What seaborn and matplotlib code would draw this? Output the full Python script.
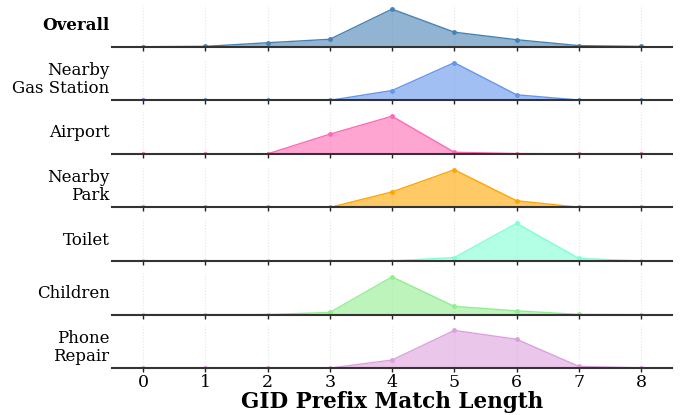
import numpy as np
import pandas as pd
import matplotlib
matplotlib.use("Agg")
import matplotlib.pyplot as plt
import seaborn as sns

# share of matches (%) for each GID prefix match length
lengths = [0, 1, 2, 3, 4, 5, 6, 7, 8]
overall = [0.1, 0.6, 5.5, 10.2, 51.0, 19.8, 9.6, 1.6, 0.5]
gas_station = [0.0, 0.0, 0.0, 0.0, 18.0, 69.0, 10.2, 0.6, 0.1]
airport = [0.0, 0.0, 0.0, 33.5, 64.0, 2.8, 0.6, 0.1, 0.0]
park = [0.0, 0.0, 0.0, 0.0, 26.0, 63.0, 11.2, 0.4, 0.0]
toilet = [0.0, 0.0, 0.0, 0.0, 0.4, 7.8, 86.0, 6.0, 0.2]
children = [0.0, 0.0, 0.1, 4.0, 73.0, 15.8, 7.2, 0.3, 0.0]
phone_repair = [0.0, 0.0, 0.0, 0.0, 10.5, 49.0, 37.5, 2.2, 0.4]

names = ["Overall", "Nearby\nGas Station", "Airport", "Nearby\nPark", "Toilet", "Children", "Phone\nRepair"]
series = [overall, gas_station, airport, park, toilet, children, phone_repair]
colors = ["steelblue", "cornflowerblue", "hotpink", "orange", "aquamarine", "lightgreen", "plum"]

sns.set_style("white")
plt.rcParams["font.family"] = ["DejaVu Serif"]
plt.rcParams["text.color"] = "black"
plt.rcParams["axes.labelcolor"] = "black"
plt.rcParams["xtick.color"] = "black"

fig, axes = plt.subplots(len(series), 1, figsize=(6.86, 4.15), dpi=100, sharex=True)
fig.subplots_adjust(left=0.163, right=0.98, top=0.988, bottom=0.113, hspace=0.28)

for ax, name, vals, col in zip(axes, names, series, colors):
    df = pd.DataFrame({"len": lengths, "pct": vals})
    ax.fill_between(df["len"], df["pct"], color=col, alpha=0.6, lw=0)
    sns.lineplot(data=df, x="len", y="pct", ax=ax, color=col, lw=1.0,
                 marker="o", markersize=3.5, markeredgewidth=0)
    ax.set_ylim(0, max(vals) * 1.11)
    ax.set_xlim(-0.5, 8.5)
    ax.set_yticks([])
    ax.set_ylabel("")
    ax.set_xlabel("")
    for x in lengths:
        ax.axvline(x, color="#e6e6e6", lw=0.8, ls=":", zorder=0)
    for s in ["top", "right", "left"]:
        ax.spines[s].set_visible(False)
    ax.spines["bottom"].set_color("#333333")
    ax.spines["bottom"].set_linewidth(1.5)
    ax.tick_params(axis="x", bottom=True, direction="out", length=3, width=1, color="#222222",
                   labelsize=12.5)
    ax.text(-0.004, 0.5, name, transform=ax.transAxes, ha="right", va="center", fontsize=12,
            fontweight="bold" if name == "Overall" else "normal", linespacing=1.1)

axes[-1].set_xticks(lengths)
axes[-1].tick_params(axis="x", pad=1)
axes[-1].set_xlabel("GID Prefix Match Length", fontsize=15.5, fontweight="bold", labelpad=0)

fig.savefig("out.png", dpi=100)
